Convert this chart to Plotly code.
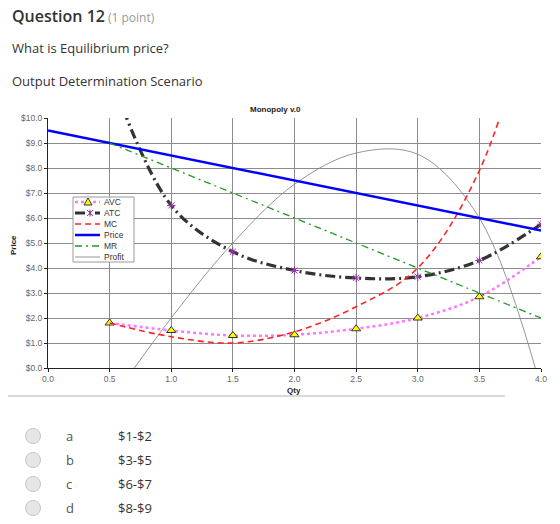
import plotly.graph_objects as go

# ---------------- data ----------------
qty = [0.5, 1.0, 1.5, 2.0, 2.5, 3.0, 3.5, 4.0]
avc = [1.8, 1.5, 1.3, 1.33, 1.57, 2.0, 2.85, 4.45]
atc = [11.8, 6.5, 4.65, 3.9, 3.6, 3.65, 4.3, 5.75]
mc = [1.8, 1.25, 1.0, 1.45, 2.45, 4.0, 7.9, 15.7]
price_q = [0.0, 4.0]
price = [9.5, 5.5]
mr_q = [0.5, 4.0]
mr = [9.0, 2.0]
profit = [-1.4, 2.0, 5.0, 7.35, 8.6, 8.55, 6.0, -0.8]

series_names = ["AVC", "ATC", "MC", "Price", "MR", "Profit"]

options = ["a", "b", "c", "d"]
option_text = ["$1-$2", "$3-$5", "$6-$7", "$8-$9"]

question = "Question 12"
points = "(1 point)"
prompt = "What is Equilibrium price?"
scenario = "Output Determination Scenario"

# ---------------- layout geometry (pixels) ----------------
W, H = 560, 524
L, R, T, B = 48, 541, 118, 368


def px(x):
    return (x - L) / (R - L)


def py(y):
    return (B - y) / (B - T)


CHART_FONT = "Liberation Sans, Arial, sans-serif"
PAGE_FONT = "Open Sans, sans-serif"

styles = {
    "AVC": dict(color="#ff77ff", width=2.5, dash="dot"),
    "ATC": dict(color="#333333", width=3.2, dash="10px,4px,2px,4px"),
    "MC": dict(color="#ff2222", width=1.6, dash="6px,4px"),
    "Price": dict(color="#0000ff", width=2.5, dash="solid"),
    "MR": dict(color="#229922", width=1.3, dash="7px,4px,2px,4px"),
    "Profit": dict(color="#8a8a8a", width=0.9, dash="solid"),
}

fig = go.Figure()

fig.add_trace(go.Scatter(
    x=qty, y=profit, name="Profit", mode="lines",
    line=dict(**styles["Profit"], shape="spline"),
))
fig.add_trace(go.Scatter(
    x=qty, y=avc, name="AVC", mode="lines+markers",
    line=dict(**styles["AVC"], shape="spline"),
    marker=dict(symbol="triangle-up", size=8, color="#ffff00",
                line=dict(color="#333333", width=1)),
))
fig.add_trace(go.Scatter(
    x=qty, y=atc, name="ATC", mode="lines+markers",
    line=dict(**styles["ATC"], shape="spline"),
    marker=dict(symbol="asterisk-open", size=7, color="#9933aa",
                line=dict(color="#9933aa", width=1)),
))
fig.add_trace(go.Scatter(
    x=qty, y=mc, name="MC", mode="lines",
    line=dict(**styles["MC"], shape="spline"),
))
fig.add_trace(go.Scatter(
    x=price_q, y=price, name="Price", mode="lines",
    line=styles["Price"],
))
fig.add_trace(go.Scatter(
    x=mr_q, y=mr, name="MR", mode="lines",
    line=styles["MR"],
))

annotations = [
    dict(x=px(10), y=py(16), text=question, xanchor="left", yanchor="middle",
         font=dict(family=PAGE_FONT, size=16, color="#333333", weight=600)),
    dict(x=px(106), y=py(17), text=points, xanchor="left", yanchor="middle",
         font=dict(family=PAGE_FONT, size=12, color="#999999")),
    dict(x=px(10), y=py(48), text=prompt, xanchor="left", yanchor="middle",
         font=dict(family=PAGE_FONT, size=13, color="#333333")),
    dict(x=px(10), y=py(81), text=scenario, xanchor="left", yanchor="middle",
         font=dict(family=PAGE_FONT, size=13, color="#333333")),
    dict(x=px(275), y=py(109), text="Monopoly v.0", xanchor="center", yanchor="middle",
         font=dict(family=CHART_FONT, size=8, color="#222222", weight="bold")),
    dict(x=px(13), y=py(245), text="Price", textangle=-90, xanchor="center", yanchor="middle",
         font=dict(family=CHART_FONT, size=8, color="#222222", weight="bold")),
    dict(x=px(294), y=py(390), text="Qty", xanchor="center", yanchor="middle",
         font=dict(family=CHART_FONT, size=8, color="#222222", weight="bold")),
]

shapes = [
    dict(type="line", xref="paper", yref="paper", x0=px(8), x1=px(505),
         y0=py(396), y1=py(396), line=dict(color="#d8d8d8", width=2)),
]

# ---------------- hand-drawn compact legend ----------------
LEG_X0, LEG_X1, LEG_Y0, LEG_Y1 = 73, 134, 197, 262
shapes.append(dict(type="rect", xref="paper", yref="paper", layer="above",
                   x0=px(LEG_X0), x1=px(LEG_X1), y0=py(LEG_Y1), y1=py(LEG_Y0),
                   fillcolor="white", line=dict(color="#9a9a9a", width=1)))
for i, name in enumerate(series_names):
    ly = 202 + 11 * i
    st = styles[name]
    shapes.append(dict(type="line", xref="paper", yref="paper", layer="above",
                       x0=px(75), x1=px(100), y0=py(ly), y1=py(ly),
                       line=dict(color=st["color"], width=min(st["width"], 3), dash=st["dash"])))
    annotations.append(dict(x=px(102), y=py(ly), text=name, xanchor="left", yanchor="middle",
                            font=dict(family=CHART_FONT, size=8.5, color="#333333")))
    if name == "AVC":
        shapes.append(dict(type="path", xref="paper", yref="paper", layer="above",
                           xsizemode="pixel", ysizemode="pixel",
                           xanchor=px(88), yanchor=py(ly),
                           path="M -4 -3 L 4 -3 L 0 4 Z",
                           fillcolor="#ffff00", line=dict(color="#333333", width=1)))
    if name == "ATC":
        shapes.append(dict(type="path", xref="paper", yref="paper", layer="above",
                           xsizemode="pixel", ysizemode="pixel",
                           xanchor=px(90), yanchor=py(ly),
                           path="M -3 -3 L 3 3 M -3 3 L 3 -3 M 0 -3.5 L 0 3.5",
                           line=dict(color="#9933aa", width=1)))

for i, (opt, txt) in enumerate(zip(options, option_text)):
    yc = 436 + 24 * i
    shapes.append(dict(type="circle", xref="paper", yref="paper",
                       xsizemode="pixel", ysizemode="pixel",
                       xanchor=px(33), yanchor=py(yc),
                       x0=-7.5, x1=7.5, y0=-7.5, y1=7.5,
                       fillcolor="#e6e6e6", line=dict(color="#c4c4c4", width=1)))
    annotations.append(dict(x=px(64), y=py(yc), text=opt, xanchor="left", yanchor="middle",
                            font=dict(family=PAGE_FONT, size=13, color="#555555")))
    annotations.append(dict(x=px(116), y=py(yc), text=txt, xanchor="left", yanchor="middle",
                            font=dict(family=PAGE_FONT, size=13, color="#333333")))

for a in annotations:
    a.setdefault("xref", "paper")
    a.setdefault("yref", "paper")
    a["showarrow"] = False

fig.update_layout(
    width=W, height=H,
    margin=dict(l=L, r=W - R, t=T, b=H - B, pad=0),
    paper_bgcolor="white", plot_bgcolor="white",
    showlegend=False,
    annotations=annotations,
    shapes=shapes,
    font=dict(family=CHART_FONT),
)

fig.update_xaxes(
    range=[0, 4.0], dtick=0.5, tick0=0, tickformat=".1f",
    showgrid=True, gridcolor="#8c8c8c", gridwidth=1,
    showline=True, linecolor="#222222", linewidth=1,
    ticks="outside", ticklen=3, tickcolor="#222222",
    tickfont=dict(family=CHART_FONT, size=8.5, color="#666666"),
    zeroline=False,
)
fig.update_yaxes(
    range=[0, 10], dtick=1, tick0=0, tickformat=".1f", tickprefix="$",
    showgrid=True, gridcolor="#8c8c8c", gridwidth=1,
    showline=True, linecolor="#222222", linewidth=1,
    ticks="outside", ticklen=3, tickcolor="#222222",
    tickfont=dict(family=CHART_FONT, size=8.5, color="#666666"),
    zeroline=False,
)

fig.write_html("out.html")
